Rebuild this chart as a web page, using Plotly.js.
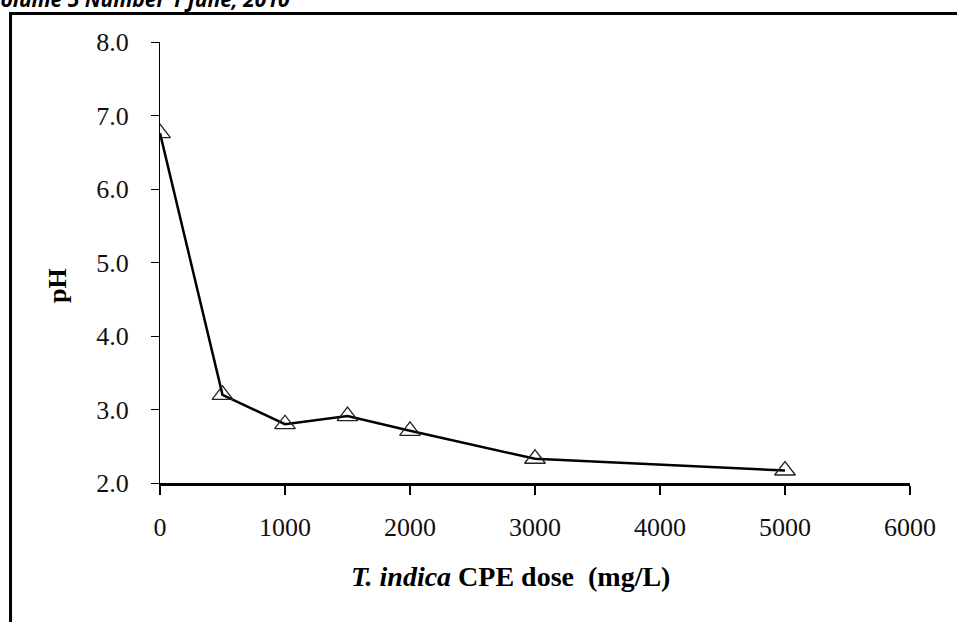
<!DOCTYPE html>
<html>
<head>
<meta charset="utf-8">
<script src="https://cdn.plot.ly/plotly-3.0.1.min.js"></script>
<style>
html,body{margin:0;padding:0;background:#fff;}
#chart{width:957px;height:622px;}
</style>
</head>
<body>
<div id="chart"></div>
<script>
// Data
const doseMgL = [0, 500, 1000, 1500, 2000, 3000, 5000];
const pHValues = [6.76, 3.2, 2.8, 2.91, 2.71, 2.33, 2.17];
const xTickValues = [0, 1000, 2000, 3000, 4000, 5000, 6000];
const yTickValues = [2, 3, 4, 5, 6, 7, 8];
const headerText = 'Volume 5 Number 1 June, 2010';
const xTitleText = '<i>T. indica</i> CPE dose  (mg/L)';
const yTitleText = 'pH';

const serif = '"Liberation Serif", "Times New Roman", serif';

const trace = {
  x: doseMgL,
  y: pHValues,
  type: 'scatter',
  mode: 'lines+markers',
  line: {color: '#000', width: 2.5},
  marker: {symbol: 'triangle-up-open', size: 18, color: '#222', line: {color: '#222', width: 1.3}},
  showlegend: false,
  hoverinfo: 'x+y'
};

const layout = {
  width: 957,
  height: 622,
  margin: {l: 160, r: 47, t: 42, b: 139},
  paper_bgcolor: '#fff',
  plot_bgcolor: '#fff',
  showlegend: false,
  font: {family: serif, color: '#111', size: 20},
  xaxis: {
    range: [0, 6000],
    tickvals: xTickValues,
    ticktext: xTickValues.map(String),
    showgrid: false,
    zeroline: false,
    showline: true,
    linecolor: '#000',
    linewidth: 2.5,
    ticks: 'outside',
    ticklen: 9,
    tickwidth: 1.5,
    tickcolor: '#000',
    ticklabelstandoff: 10,
    tickfont: {family: serif, size: 26, color: '#111'}
  },
  yaxis: {
    range: [2, 8],
    tickvals: yTickValues,
    ticktext: yTickValues.map(v => v.toFixed(1)),
    showgrid: false,
    zeroline: false,
    showline: true,
    linecolor: '#000',
    linewidth: 1,
    ticks: 'outside',
    ticklen: 8,
    tickwidth: 1,
    tickcolor: '#000',
    ticklabelstandoff: 17,
    tickfont: {family: serif, size: 26, color: '#111'}
  },
  shapes: [
    {type: 'line', xref: 'paper', yref: 'paper', x0: -0.1993, x1: -0.1993, y0: 1.066, y1: -0.33,
     line: {color: '#000', width: 3}},
    {type: 'line', xref: 'paper', yref: 'paper', x0: -0.2013, x1: 1.07, y0: 1.0646, y1: 1.0646,
     line: {color: '#000', width: 3}}
  ],
  annotations: [
    {text: headerText, xref: 'paper', yref: 'paper', x: -0.232, y: 1.0964,
     xanchor: 'left', yanchor: 'middle', showarrow: false,
     font: {family: '"Open Sans", "Noto Sans", sans-serif', size: 21, color: '#000', weight: 'bold', style: 'italic'}},
    {text: '<b>' + xTitleText + '</b>', xref: 'paper', yref: 'paper', x: 0.4667, y: -0.213,
     xanchor: 'center', yanchor: 'middle', showarrow: false,
     font: {family: serif, size: 28, color: '#000'}},
    {text: '<b>' + yTitleText + '</b>', xref: 'paper', yref: 'paper', x: -0.136, y: 0.449,
     xanchor: 'center', yanchor: 'middle', showarrow: false, textangle: -90,
     font: {family: serif, size: 26, color: '#000'}}
  ]
};

Plotly.newPlot('chart', [trace], layout, {displayModeBar: false, staticPlot: true});
</script>
</body>
</html>
